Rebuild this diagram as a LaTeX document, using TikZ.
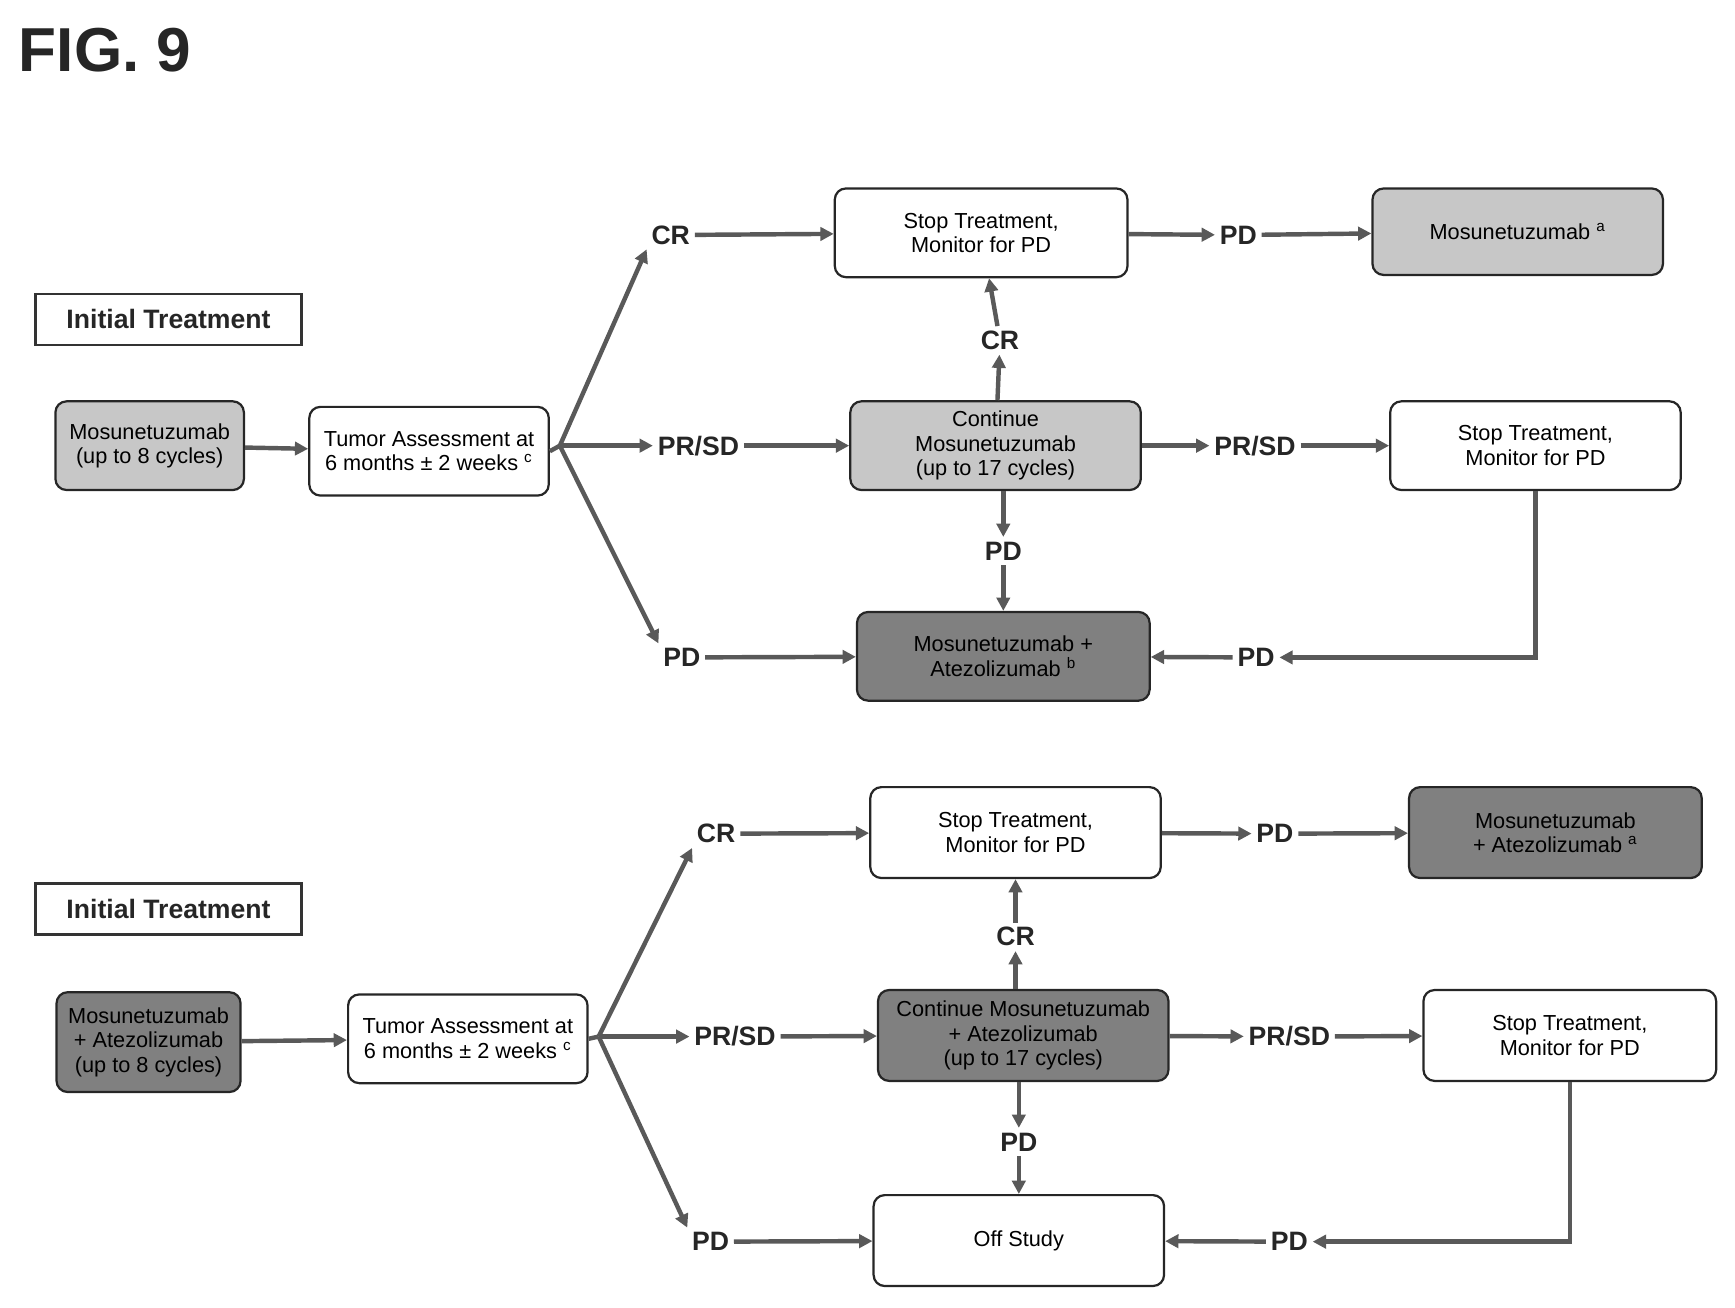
\documentclass[tikz,border=0pt]{standalone}
\usepackage{fontspec}
\setmainfont{Liberation Sans}
\usetikzlibrary{arrows.meta}
\begin{document}
\begin{tikzpicture}[x=0.5pt,y=-0.5pt,
  box/.style={draw=black!85,line width=1pt,rounded corners=5pt,align=center,inner sep=1pt,font=\fontsize{9.8}{11}\selectfont},
  wbox/.style={box,fill=white},
  lbox/.style={box,fill=black!22},
  dbox/.style={box,fill=black!50},
  lab/.style={inner sep=2pt,font=\fontsize{12}{14}\selectfont\bfseries,text=black!85},
  it/.style={draw=black!80,line width=1pt,minimum width=120pt,minimum height=23pt,font=\fontsize{12}{14}\selectfont\bfseries,text=black!85},
  ar/.style={draw=black!65,line width=2pt,-{Triangle[length=6pt,width=6pt]}},
  ln/.style={draw=black!65,line width=2pt}]
\useasboundingbox (0,0) rectangle (1565,1179);
\node[anchor=west,font=\fontsize{28}{30}\selectfont\bfseries,text=black!85] (fig) at (10,45) {FIG. 9};
% ---------- top ----------
\node[it] (it1) at (152,288) {Initial Treatment};
\node[lbox,minimum width=85pt,minimum height=40pt] (m1) at (135,402) {Mosunetuzumab\\(up to 8 cycles)};
\node[wbox,minimum width=108pt,minimum height=40pt] (t1) at (387,407) {Tumor Assessment at\\6 months ± 2 weeks \textsuperscript{c}};
\coordinate (b1) at (505,402);
\node[lab] (cr1) at (605,212) {CR};
\node[lab] (ps1) at (630,402) {PR/SD};
\node[lab] (pd1) at (615,593) {PD};
\node[wbox,minimum width=132pt,minimum height=40pt] (s1) at (885,210) {Stop Treatment,\\Monitor for PD};
\node[lab] (pd2) at (1117,212) {PD};
\node[lbox,minimum width=131pt,minimum height=39pt] (ma) at (1369,209) {Mosunetuzumab \textsuperscript{a}};
\node[lab] (cr2) at (902,307) {CR};
\node[lbox,minimum width=131pt,minimum height=40pt] (c1) at (898,402) {Continue\\Mosunetuzumab\\(up to 17 cycles)};
\node[lab] (ps2) at (1132,402) {PR/SD};
\node[wbox,minimum width=131pt,minimum height=40pt] (s2) at (1385,402) {Stop Treatment,\\Monitor for PD};
\node[lab] (pd3) at (905,497) {PD};
\node[dbox,minimum width=132pt,minimum height=40pt] (x1) at (905,592) {Mosunetuzumab +\\Atezolizumab \textsuperscript{b}};
\node[lab] (pd4) at (1133,593) {PD};
\draw[ar] (m1) -- (t1);
\draw[ln] (t1.east) -- (b1);
\draw[ar] (b1) -- (cr1.south west);
\draw[ar] (b1) -- (ps1);
\draw[ar] (b1) -- (pd1.north west);
\draw[ar] (cr1) -- (s1);
\draw[ar] (s1) -- (pd2);
\draw[ar] (pd2) -- (ma);
\draw[ar] (cr2) -- (s1);
\draw[ar] (c1) -- (cr2);
\draw[ar] (ps1) -- (c1);
\draw[ar] (c1) -- (ps2);
\draw[ar] (ps2) -- (s2);
\draw[ar] (c1.south -| pd3) -- (pd3);
\draw[ar] (pd3) -- (x1);
\draw[ar] (pd1) -- (x1);
\draw[ar] (s2.south) |- (pd4.east);
\draw[ar] (pd4) -- (x1);
% ---------- bottom ----------
\node[it] (it2) at (152,820) {Initial Treatment};
\node[dbox,minimum width=83pt,minimum height=45pt] (m2) at (134,940) {Mosunetuzumab\\+ Atezolizumab\\(up to 8 cycles)};
\node[wbox,minimum width=108pt,minimum height=40pt] (t2) at (422,937) {Tumor Assessment at\\6 months ± 2 weeks \textsuperscript{c}};
\coordinate (b2) at (540,935);
\node[lab] (cr3) at (646,752) {CR};
\node[lab] (ps3) at (663,935) {PR/SD};
\node[lab] (pd5) at (641,1120) {PD};
\node[wbox,minimum width=131pt,minimum height=41pt] (s3) at (916,751) {Stop Treatment,\\Monitor for PD};
\node[lab] (pd6) at (1150,752) {PD};
\node[dbox,minimum width=132pt,minimum height=41pt] (mb) at (1403,751) {Mosunetuzumab\\+ Atezolizumab \textsuperscript{a}};
\node[lab] (cr4) at (916,845) {CR};
\node[dbox,minimum width=131pt,minimum height=41pt] (c2) at (923,934) {Continue Mosunetuzumab\\+ Atezolizumab\\(up to 17 cycles)};
\node[lab] (ps4) at (1163,935) {PR/SD};
\node[wbox,minimum width=132pt,minimum height=41pt] (s4) at (1416,934) {Stop Treatment,\\Monitor for PD};
\node[lab] (pd7) at (919,1030) {PD};
\node[wbox,minimum width=131pt,minimum height=41pt] (off) at (919,1119) {Off Study};
\node[lab] (pd8) at (1163,1120) {PD};
\draw[ar] (m2) -- (t2);
\draw[ln] (t2.east) -- (b2);
\draw[ar] (b2) -- (cr3.south west);
\draw[ar] (b2) -- (ps3);
\draw[ar] (b2) -- (pd5.north west);
\draw[ar] (cr3) -- (s3);
\draw[ar] (s3) -- (pd6);
\draw[ar] (pd6) -- (mb);
\draw[ar] (cr4) -- (s3.south -| cr4);
\draw[ar] (c2.north -| cr4) -- (cr4);
\draw[ar] (ps3) -- (c2);
\draw[ar] (c2) -- (ps4);
\draw[ar] (ps4) -- (s4);
\draw[ar] (c2.south -| pd7) -- (pd7);
\draw[ar] (pd7) -- (off);
\draw[ar] (pd5) -- (off);
\draw[ar] (s4.south) |- (pd8.east);
\draw[ar] (pd8) -- (off);
\end{tikzpicture}
\end{document}
